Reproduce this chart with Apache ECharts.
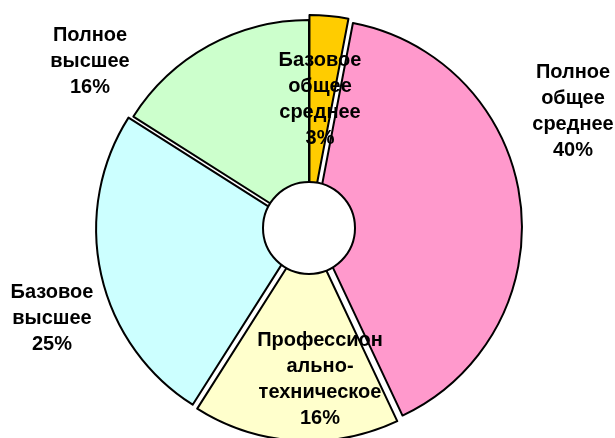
<!DOCTYPE html>
<html>
<head>
<meta charset="utf-8">
<script src="https://cdn.jsdelivr.net/npm/echarts@6/dist/echarts.min.js"></script>
<style>
  html, body { margin: 0; padding: 0; background: #fff; }
  #main { width: 615px; height: 438px; }
</style>
</head>
<body>
<div id="main"></div>
<script>
// data
const labels = [
  'Базовое\nобщее\nсреднее',
  'Полное\nобщее\nсреднее',
  'Профессион\nально-\nтехническое',
  'Базовое\nвысшее',
  'Полное\nвысшее'
];
const values = [3, 40, 16, 25, 16];
const colors = ['#FFCC00', '#FF99CC', '#FFFFCC', '#CCFFFF', '#CCFFCC'];
const exploded = [true, true, true, true, false];

// label anchor points (layout only)
const labelPos = [[320, 99], [573, 111], [320, 379], [52, 318], [90, 61]];

const chart = echarts.init(document.getElementById('main'));

const center = [309, 228];

chart.setOption({
  animation: false,
  series: [
    {
      // slices, pulled apart
      type: 'pie',
      center: center,
      radius: [0, 208],
      startAngle: 90,
      clockwise: true,
      selectedMode: 'multiple',
      selectedOffset: 5,
      silent: true,
      itemStyle: { borderColor: '#000', borderWidth: 2 },
      label: { show: false },
      labelLine: { show: false },
      emphasis: { disabled: true },
      data: values.map((v, i) => ({
        name: labels[i],
        value: v,
        selected: exploded[i],
        itemStyle: { color: colors[i] }
      }))
    },
    {
      // hole in the middle
      type: 'pie',
      center: center,
      radius: [0, 46],
      silent: true,
      z: 3,
      label: { show: false },
      labelLine: { show: false },
      itemStyle: { color: '#fff', borderColor: '#000', borderWidth: 2 },
      emphasis: { disabled: true },
      data: [{ value: 1, name: 'hole' }]
    },
    {
      // labels only
      type: 'pie',
      center: center,
      radius: [0, 208],
      startAngle: 90,
      clockwise: true,
      silent: true,
      z: 4,
      itemStyle: { color: 'rgba(0,0,0,0)', borderWidth: 0 },
      label: {
        position: 'outside',
        formatter: p => p.name + '\n' + p.value + '%',
        fontFamily: 'Liberation Sans, Arial, sans-serif',
        fontWeight: 'bold',
        fontSize: 20,
        lineHeight: 26,
        color: '#000',
        align: 'center',
        width: 160,
        overflow: 'none'
      },
      labelLine: { show: false },
      labelLayout: p => ({
        x: labelPos[p.dataIndex][0],
        y: labelPos[p.dataIndex][1],
        align: 'center',
        verticalAlign: 'middle'
      }),
      emphasis: { disabled: true },
      data: values.map((v, i) => ({ name: labels[i], value: v }))
    }
  ]
});
</script>
</body>
</html>
